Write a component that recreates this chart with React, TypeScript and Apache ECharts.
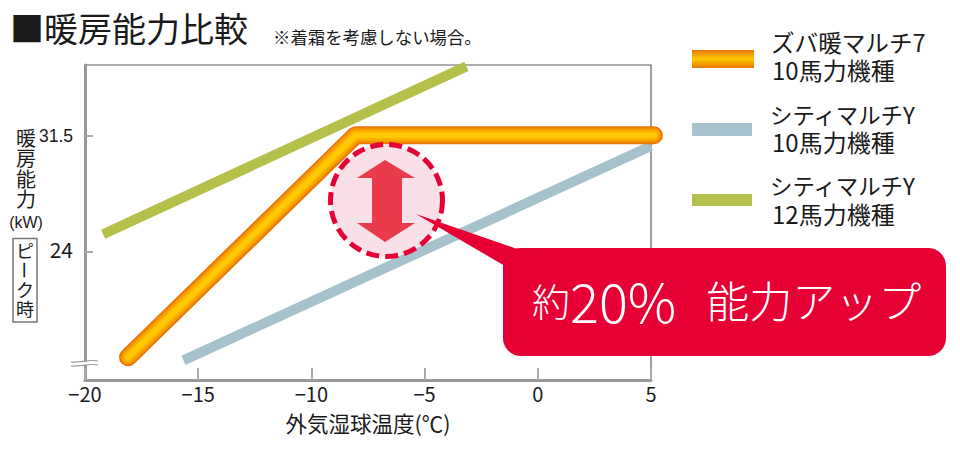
import React, { useEffect, useRef } from "react";
import * as echarts from "echarts";

const CJK = '"Noto Sans CJK JP", "Noto Sans", sans-serif';
const NARROW = '"Liberation Sans Narrow", "Liberation Sans", sans-serif';

const titleText = "■暖房能力比較";
const noteText = "※着霜を考慮しない場合。";
const xAxisName = "外気湿球温度(℃)";
const yTickValues = [24, 31.5];
const seriesNames = ["ズバ暖マルチ7\n10馬力機種", "シティマルチY\n10馬力機種", "シティマルチY\n12馬力機種"];
const zubadanPoints = [[-18.1, 17.2], [-8.05, 31.55], [5.13, 31.55]];
const cityTenPoints = [[-15.65, 17.0], [5, 30.85]];
const cityTwelvePoints = [[-19.2, 25.15], [-3.15, 36.0]];
const orangeLayers = [
  { width: 18, color: "#ea7405" },
  { width: 15, color: "#f39200" },
  { width: 11, color: "#fbac00" },
  { width: 6, color: "#ffc800" },
];

const redDark = "#e60033";
const text = "#1a1a1a";

function label(x: number, y: number, s: string, size: number, extra: any = {}) {
  return {
    type: "text", x, y, z: 100,
    style: { text: s, fontSize: size, fontFamily: CJK, fill: text, textVerticalAlign: "middle", verticalAlign: "middle", ...extra },
  };
}

export default function App() {
  const ref = useRef<HTMLDivElement>(null);
  useEffect(() => {
    const chart = echarts.init(ref.current!, null, { renderer: "svg" });
    const orangeGradient = new echarts.graphic.LinearGradient(0, 0, 0, 1, [
      { offset: 0, color: "#ea7405" },
      { offset: 0.5, color: "#ffc800" },
      { offset: 1, color: "#ea7405" },
    ]);
    chart.setOption({
      animation: false,
      backgroundColor: "#fff",
      grid: { left: 85, right: 309, top: 65, height: 315, show: true, borderColor: "#5c5c5c", borderWidth: 1.2, backgroundColor: "#fff" },
      xAxis: {
        type: "value", min: -20, max: 5, interval: 5,
        name: xAxisName, nameLocation: "middle", nameGap: 32,
        nameTextStyle: { fontSize: 21.5, fontFamily: CJK, color: text },
        axisLine: { show: true, onZero: false, lineStyle: { color: "#999", width: 3 } },
        axisTick: { show: true, inside: true, length: 12, lineStyle: { color: "#aaa", width: 2 } },
        axisLabel: { fontSize: 20, fontFamily: CJK, color: text, margin: 3, showMinLabel: true, showMaxLabel: true, hideOverlap: false,
          formatter: (v: number) => String(v).replace("-", "−") },
        splitLine: { show: false },
      },
      yAxis: {
        type: "value", min: 15.73, max: 36.09,
        axisLine: { show: true, onZero: false, lineStyle: { color: "#999", width: 3 } },
        axisTick: { show: true, inside: true, length: 8, customValues: yTickValues, lineStyle: { color: "#aaa", width: 2 } },
        axisLabel: {
          customValues: yTickValues, margin: 12, fontSize: 21, fontFamily: CJK, color: text,
          formatter: (v: number) => (v === 31.5 ? "{n|31.5}" : "{m|" + v + "}"),
          rich: {
            n: { fontSize: 17.5, fontFamily: NARROW, color: text },
            m: { fontSize: 21, fontFamily: CJK, color: text, padding: [0, 0, 6, 0] },
          },
        },
        splitLine: { show: false },
      },
      series: [
        { name: seriesNames[2], type: "line", data: cityTwelvePoints, symbol: "none", z: 2,
          lineStyle: { color: "#b5c04a", width: 10, cap: "butt" } },
        { name: seriesNames[1], type: "line", data: cityTenPoints, symbol: "none", z: 3,
          lineStyle: { color: "#a6c2cd", width: 10, cap: "butt" } },
        {
          name: seriesNames[0], type: "custom", data: zubadanPoints, z: 4, silent: true,
          encode: { x: 0, y: 1 },
          renderItem: (params: any, api: any) => {
            if (params.dataIndex !== 0) return null;
            const points = zubadanPoints.map((p) => api.coord(p));
            return {
              type: "group",
              children: orangeLayers.map((l) => ({
                type: "polyline",
                shape: { points },
                style: { stroke: l.color, lineWidth: l.width, fill: "none", lineCap: "round", lineJoin: "round" },
              })),
            };
          },
        },
      ],
      graphic: [
        label(10, 27, titleText, 34),
        label(273, 36, noteText, 17.4),
        // y axis name
        label(26, 168, "暖\n房\n能\n力", 20, { align: "center", textAlign: "center", lineHeight: 20.5 }),
        label(26, 222, "(kW)", 16, { textAlign: "center", align: "center", fontFamily: NARROW }),
        { type: "rect", z: 100, shape: { x: 13, y: 238.5, width: 24, height: 83.5 }, style: { fill: "#fff", stroke: "#777", lineWidth: 1.5 } },
        label(25, 279, "ピ\n\nク\n時", 18, { align: "center", textAlign: "center", lineHeight: 19.5 }),
        { type: "text", z: 100, x: 25, y: 270, rotation: -Math.PI / 2,
          style: { text: "ー", fontSize: 18, fontFamily: CJK, fill: text, align: "center", verticalAlign: "middle", textAlign: "center", textVerticalAlign: "middle" } },
        // axis break
        { type: "rect", z: 100, shape: { x: 71, y: 362, width: 28, height: 3 }, style: { fill: "#fff" } },
        { type: "bezierCurve", z: 101, shape: { x1: 71, y1: 362, cpx1: 80, cpy1: 363, cpx2: 88, cpy2: 359, x2: 98, y2: 361 }, style: { stroke: "#999", lineWidth: 1.2, fill: "none" } },
        { type: "bezierCurve", z: 101, shape: { x1: 71, y1: 366, cpx1: 80, cpy1: 367, cpx2: 88, cpy2: 363, x2: 98, y2: 365 }, style: { stroke: "#999", lineWidth: 1.2, fill: "none" } },
        // legend
        { type: "rect", z: 100, shape: { x: 692, y: 50, width: 62, height: 18 }, style: { fill: orangeGradient } },
        { type: "rect", z: 100, shape: { x: 692, y: 123, width: 60, height: 13 }, style: { fill: "#a6c2cd" } },
        { type: "rect", z: 100, shape: { x: 692, y: 194, width: 60, height: 12 }, style: { fill: "#b5c04a" } },
        label(771, 42, "ズバ暖マルチ7", 23.6),
        label(772, 69, "10馬力機種", 24),
        label(770, 114, "シティマルチY", 22.4),
        label(772, 141, "10馬力機種", 24),
        label(770, 185, "シティマルチY", 22.4),
        label(772, 213, "12馬力機種", 24),
        // annotation
        { type: "circle", z: 100, shape: { cx: 386.5, cy: 200.5, r: 56 }, style: { fill: "#f9dfe8", stroke: redDark, lineWidth: 5, lineDash: [13, 6] } },
        { type: "polygon", z: 101, shape: { points: [[385, 160], [415, 178], [402, 178], [402, 223], [415, 223], [385, 242], [357, 223], [372, 223], [372, 178], [357, 178]] }, style: { fill: "#ea3b4b" } },
        { type: "polygon", z: 102, shape: { points: [[416, 214], [520, 250], [505, 266]] }, style: { fill: redDark } },
        { type: "rect", z: 102, shape: { x: 503, y: 248, width: 443, height: 108, r: 18 }, style: { fill: redDark } },
        { type: "text", z: 103, x: 532, y: 299, style: {
          text: "{a|約}{b|20%}{c|  能力アップ}", fontFamily: CJK, fill: "#fff", verticalAlign: "middle", textVerticalAlign: "middle",
          rich: {
            a: { fontSize: 38, fontFamily: CJK, fill: "#fff", fontWeight: 300 },
            b: { fontSize: 54, fontFamily: CJK, fill: "#fff", fontWeight: 300 },
            c: { fontSize: 43, fontFamily: CJK, fill: "#fff", fontWeight: 300, padding: [0, 0, 0, 11] },
          },
        } },
      ],
    });
    return () => chart.dispose();
  }, []);
  return <div ref={ref} style={{ position: "absolute", left: 0, top: 0, width: 960, height: 460 }} />;
}
